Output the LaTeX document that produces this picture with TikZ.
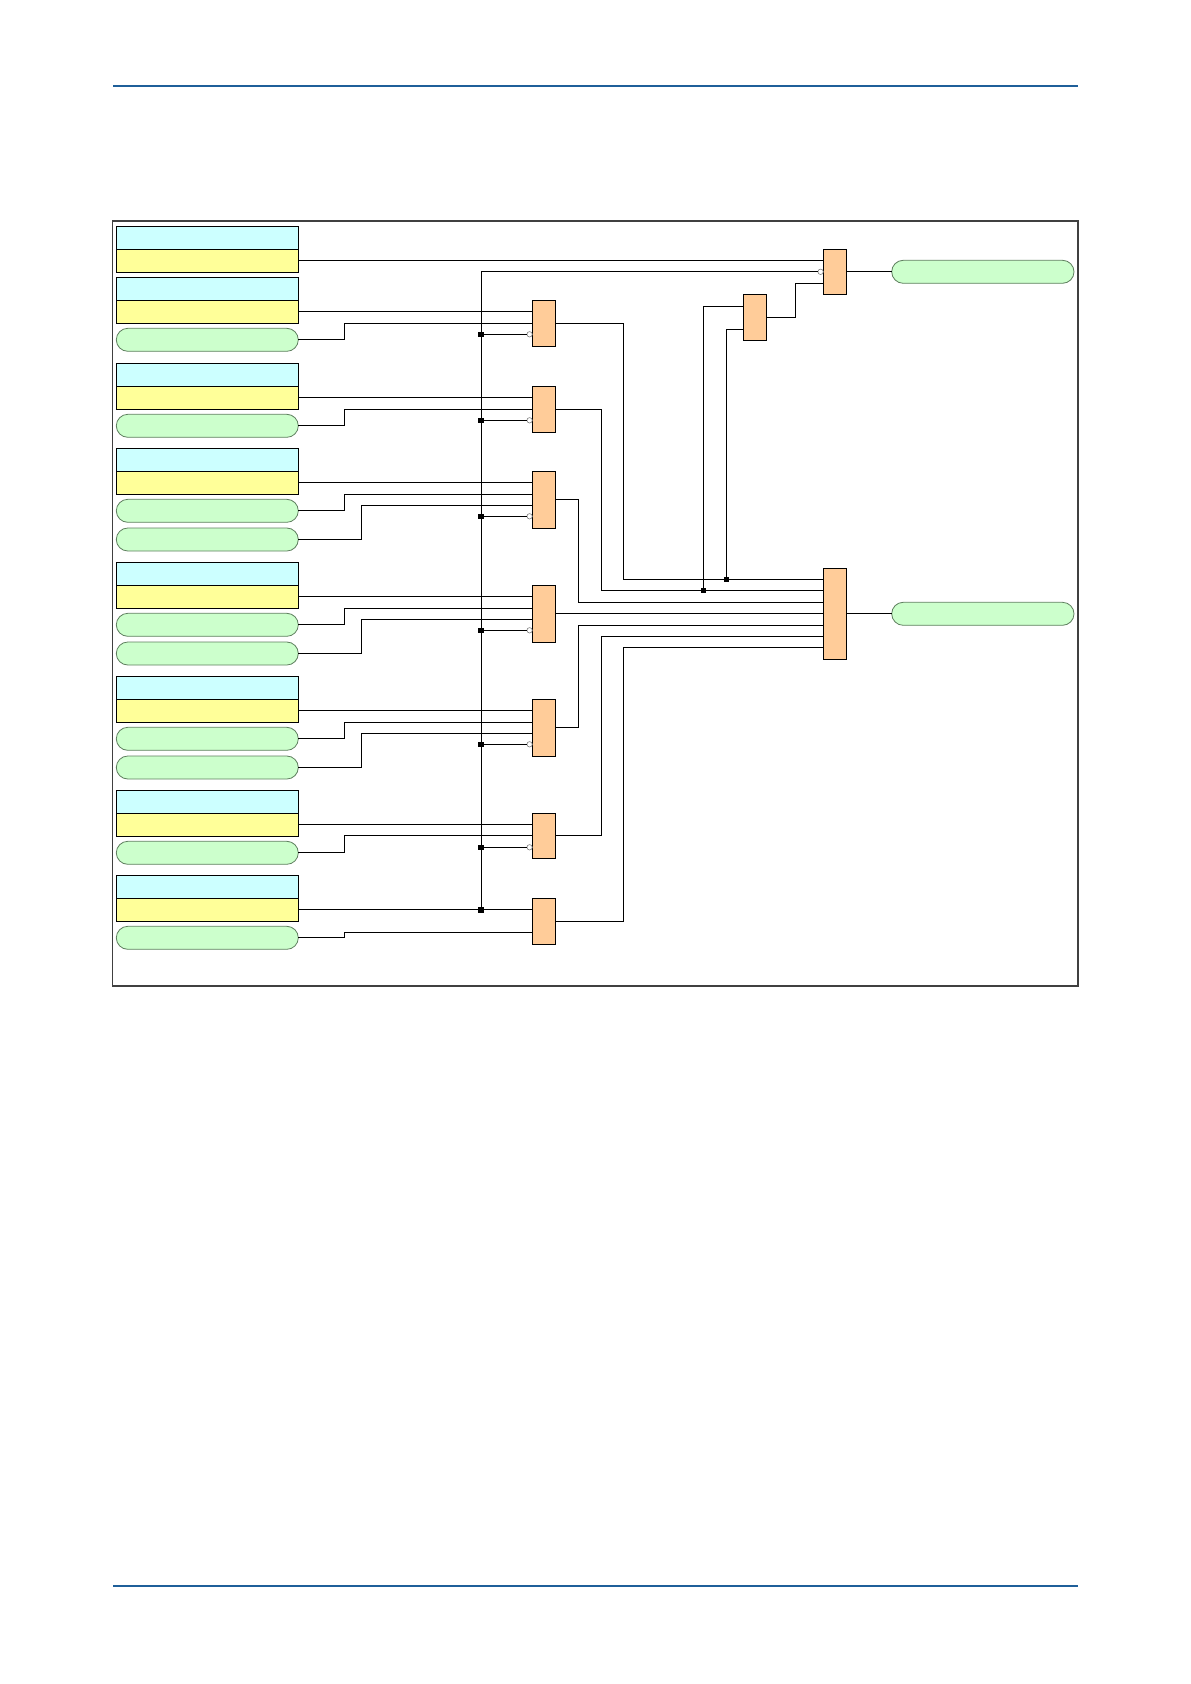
\documentclass[tikz,border=0pt]{standalone}
\definecolor{cyanfill}{HTML}{CCFFFF}
\definecolor{yelfill}{HTML}{FFFF99}
\definecolor{pillfill}{HTML}{CCFFCC}
\definecolor{pillline}{HTML}{5E7F5E}
\definecolor{gatefill}{HTML}{FFCC99}
\definecolor{rulecol}{HTML}{1F5F99}
\definecolor{framecol}{HTML}{404040}
\begin{document}
\begin{tikzpicture}[x=1pt,y=-1pt,
  every node/.style={inner sep=0pt,outer sep=0pt},
  cbox/.style={rectangle,draw=black,line width=1pt,fill=cyanfill,minimum width=182.4pt,minimum height=23pt,anchor=north west},
  ybox/.style={rectangle,draw=black,line width=1pt,fill=yelfill,minimum width=182.4pt,minimum height=23pt,anchor=north west},
  pill/.style={rectangle,rounded corners=11.5pt,draw=pillline,line width=0.8pt,fill=pillfill,minimum width=182pt,minimum height=23pt,anchor=north west},
  gate/.style={rectangle,draw=black,line width=1pt,fill=gatefill,minimum width=23pt,anchor=north west},
  junc/.style={rectangle,fill=black,minimum size=5.5pt},
  inv/.style={circle,draw=gray,fill=white,line width=0.6pt,minimum size=5.4pt},
  wire/.style={draw=black,line width=1pt}]
\useasboundingbox (0,0) rectangle (1191,1684);
% page rules
\draw[rulecol,line width=2pt] (113.3,85.7) -- (1077.5,85.7);
\draw[rulecol,line width=2pt] (113.3,1585.7) -- (1077.5,1585.7);
% frame
\draw[framecol,line width=1.6pt] (112.3,220.7) rectangle (1077.7,985.7);
% input boxes
\foreach \i/\t in {1/226.3,2/277.3,3/363.3,4/448.3,5/562.3,6/676.3,7/790.3,8/875.3}{
  \node[cbox] (bc\i) at (116.3,\t) {};
  \node[ybox] (by\i) at (116.3,\t+23) {};
}
% pills
\foreach \i/\t in {2/277.3,3/363.3,4/448.3,5/562.3,6/676.3,7/790.3,8/875.3}{
  \node[pill] (pa\i) at (116.3,\t+51) {};
}
\foreach \i/\t in {4/448.3,5/562.3,6/676.3}{
  \node[pill] (pb\i) at (116.3,\t+79.7) {};
}
% gates
\node[gate,minimum height=46pt] (g2) at (532.3,300.3) {};
\node[gate,minimum height=46pt] (g3) at (532.3,386.3) {};
\node[gate,minimum height=57pt] (g4) at (532.3,471.3) {};
\node[gate,minimum height=57pt] (g5) at (532.3,585.3) {};
\node[gate,minimum height=57pt] (g6) at (532.3,699.3) {};
\node[gate,minimum height=45pt] (g7) at (532.3,813.3) {};
\node[gate,minimum height=46pt] (g8) at (532.3,898.3) {};
\node[gate,minimum height=45pt] (gtop) at (823.3,249.3) {};
\node[gate,minimum height=46pt] (gor) at (743.3,294.3) {};
\node[gate,minimum height=91pt] (gbig) at (823.3,568.3) {};
% output pills
\node[pill,minimum width=182.3pt] (o1) at (891.7,260.3) {};
\node[pill,minimum width=182.3pt] (o2) at (891.7,602.3) {};
% inverted inputs
\node[inv] (i0) at (820.6,271.8) {};
\foreach \i/\y in {2/334.3,3/420.3,4/516.3,5/630.3,6/744.3,7/847.3}{
  \node[inv] (i\i) at (529.6,\y) {};
  \node[junc] (jb\i) at (481,\y) {};
}
\node[junc] (jb8) at (481,909.8) {};
\node[junc] (ja) at (703.3,590.3) {};
\node[junc] (jc) at (726.3,579.3) {};
% box lines
\draw[wire] (by1.east) -- (by1.east -| gtop.west);
\foreach \i in {2,3,4,5,6,7,8}{
  \draw[wire] (by\i.east) -- (by\i.east -| g\i.west);
}
% first pill lines (jog at 344.3)
\draw[wire] (pa2.east) -| (344.3,323.3) -- (g2.west |- 0,323.3);
\draw[wire] (pa3.east) -| (344.3,409.3) -- (g3.west |- 0,409.3);
\draw[wire] (pa4.east) -| (344.3,494.3) -- (g4.west |- 0,494.3);
\draw[wire] (pa5.east) -| (344.3,608.3) -- (g5.west |- 0,608.3);
\draw[wire] (pa6.east) -| (344.3,722.3) -- (g6.west |- 0,722.3);
\draw[wire] (pa7.east) -| (344.3,835.8) -- (g7.west |- 0,835.8);
\draw[wire] (pa8.east) -| (344.3,932.3) -- (g8.west |- 0,932.3);
% second pill lines (jog at 361.3)
\draw[wire] (pb4.east) -| (361.3,505.3) -- (g4.west |- 0,505.3);
\draw[wire] (pb5.east) -| (361.3,619.3) -- (g5.west |- 0,619.3);
\draw[wire] (pb6.east) -| (361.3,733.3) -- (g6.west |- 0,733.3);
% bus and inverted inputs
\draw[wire] (jb8) |- (i0);
\foreach \i in {2,3,4,5,6,7}{
  \draw[wire] (jb\i) -- (i\i);
}
% gate outputs to big gate
\draw[wire] (g2.east) -| (623.3,579.3) -- (gbig.west |- 0,579.3);
\draw[wire] (g3.east) -| (601.3,590.3) -- (gbig.west |- 0,590.3);
\draw[wire] (g4.east) -| (578.3,602.3) -- (gbig.west |- 0,602.3);
\draw[wire] (g5.east) -- (gbig.west |- g5.east);
\draw[wire] (g6.east) -| (578.3,625.3) -- (gbig.west |- 0,625.3);
\draw[wire] (g7.east) -| (601.3,636.3) -- (gbig.west |- 0,636.3);
\draw[wire] (g8.east) -| (623.3,647.3) -- (gbig.west |- 0,647.3);
% OR gate inputs from taps
\draw[wire] (ja) |- (gor.west |- 0,306.3);
\draw[wire] (jc) |- (gor.west |- 0,329);
% OR to top gate
\draw[wire] (gor.east) -| (795.3,283.3) -- (gtop.west |- 0,283.3);
% outputs
\draw[wire] (gtop.east) -- (o1.west);
\draw[wire] (gbig.east) -- (o2.west |- gbig.east);
\end{tikzpicture}
\end{document}
